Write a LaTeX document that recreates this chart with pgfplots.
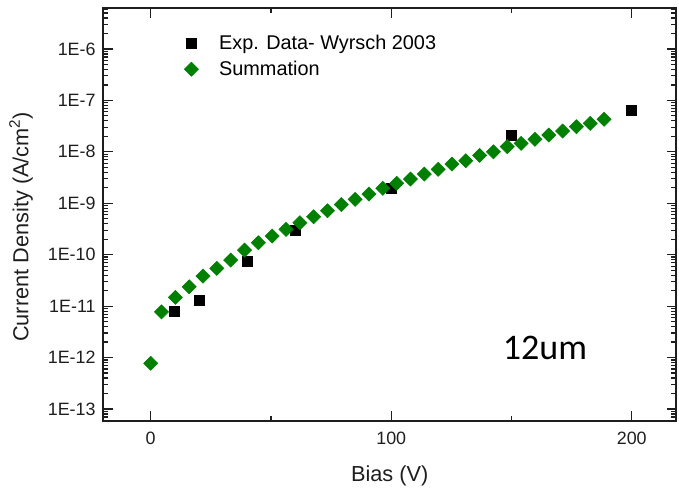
\documentclass[border=0pt]{standalone}
\usepackage{fontspec}
\setmainfont{Liberation Sans}
\newfontfamily\carlito{Carlito}
\usepackage{pgfplots}
\pgfplotsset{compat=1.18}
\definecolor{sumgreen}{RGB}{0,128,0}
\definecolor{axgray}{RGB}{30,30,30}
\begin{document}
\begin{tikzpicture}
\begin{axis}[
  scale only axis, width=429.5pt, height=309.3pt,
  clip mode=individual,
  xmin=-19.7, xmax=218.4,
  ymode=log, ymin=5.93e-14, ymax=6.18e-6,
  xtick={0,100,200}, xticklabels={0,100,200},
  minor xtick={50,150},
  ytick={1e-13,1e-12,1e-11,1e-10,1e-9,1e-8,1e-7,1e-6},
  yticklabels={1E-13,1E-12,1E-11,1E-10,1E-9,1E-8,1E-7,1E-6},
  extra y ticks={6e-14,7e-14,8e-14,9e-14,
    2e-13,3e-13,4e-13,5e-13,6e-13,7e-13,8e-13,9e-13,
    2e-12,3e-12,4e-12,5e-12,6e-12,7e-12,8e-12,9e-12,
    2e-11,3e-11,4e-11,5e-11,6e-11,7e-11,8e-11,9e-11,
    2e-10,3e-10,4e-10,5e-10,6e-10,7e-10,8e-10,9e-10,
    2e-9,3e-9,4e-9,5e-9,6e-9,7e-9,8e-9,9e-9,
    2e-8,3e-8,4e-8,5e-8,6e-8,7e-8,8e-8,9e-8,
    2e-7,3e-7,4e-7,5e-7,6e-7,7e-7,8e-7,9e-7,
    2e-6,3e-6,4e-6,5e-6,6e-6},
  extra y tick labels={},
  extra y tick style={major tick length=3.8pt},
  tick align=inside,
  major tick length=7pt, minor tick length=3.8pt,
  tick style={draw=axgray, line width=0.9pt},
  tick label style={font=\fontsize{13.4}{16}\selectfont, text=axgray},
  xticklabel style={yshift=-4.7pt},
  yticklabel style={xshift=-2.3pt},
  xlabel={Bias (V)},
  ylabel={Current Density (A/cm\textsuperscript{2})},
  label style={font=\fontsize{16.3}{19}\selectfont, text=axgray},
  xlabel style={at={(axis description cs:0.5,-0.1478)}, anchor=base},
  ylabel style={at={(axis description cs:-0.1437,0.47)}, anchor=center},
  legend style={at={(axis description cs:0.134,0.9494)}, anchor=north west,
    draw=none, fill=none, font=\fontsize{14.9}{18}\selectfont,
    column sep=13.5pt, row sep=3.4pt},
  legend cell align=left,
]
\addplot[only marks, mark=square*, mark size=3.75pt, black] coordinates {
(10,8.1e-12) (20,1.29e-11) (40,7.5e-11) (60,3.0e-10) (100,1.98e-9) (150,2.12e-8) (200,6.3e-8)
};
\addlegendentry{Exp. Data- Wyrsch 2003}
\addplot[only marks, mark=square*, mark size=3.75pt, sumgreen, mark options={rotate=45}] coordinates {
(0,7.74e-13)
(4.5,7.74e-12)
(10.25,1.48e-11)
(16,2.38e-11)
(21.75,3.84e-11)
(27.5,5.41e-11)
(33.25,7.85e-11)
(39,1.23e-10)
(44.75,1.71e-10)
(50.5,2.30e-10)
(56.25,3.10e-10)
(62,4.18e-10)
(67.75,5.47e-10)
(73.5,7.14e-10)
(79.25,9.44e-10)
(85,1.19e-9)
(90.75,1.51e-9)
(96.5,1.95e-9)
(102.25,2.44e-9)
(108,2.96e-9)
(113.75,3.70e-9)
(119.5,4.57e-9)
(125.25,5.79e-9)
(131,6.71e-9)
(136.75,8.55e-9)
(142.5,1.00e-8)
(148.25,1.26e-8)
(154,1.46e-8)
(159.75,1.75e-8)
(165.5,2.12e-8)
(171.25,2.54e-8)
(177,3.08e-8)
(182.75,3.58e-8)
(188.5,4.29e-8)
};
\addlegendentry{Summation}
\node[anchor=base west, inner sep=0pt, font=\carlito\fontsize{27}{32}\selectfont] at (axis cs:146.3,9.27e-13) {12um};
\draw[axgray, line width=1.5pt, line join=miter] (rel axis cs:0,0) rectangle (rel axis cs:1,1);
\end{axis}
\path[use as bounding box] ([xshift=-77.5pt,yshift=-47.5pt]current axis.south west) rectangle ([xshift=2.25pt,yshift=6.2pt]current axis.north east);
\end{tikzpicture}
\end{document}
